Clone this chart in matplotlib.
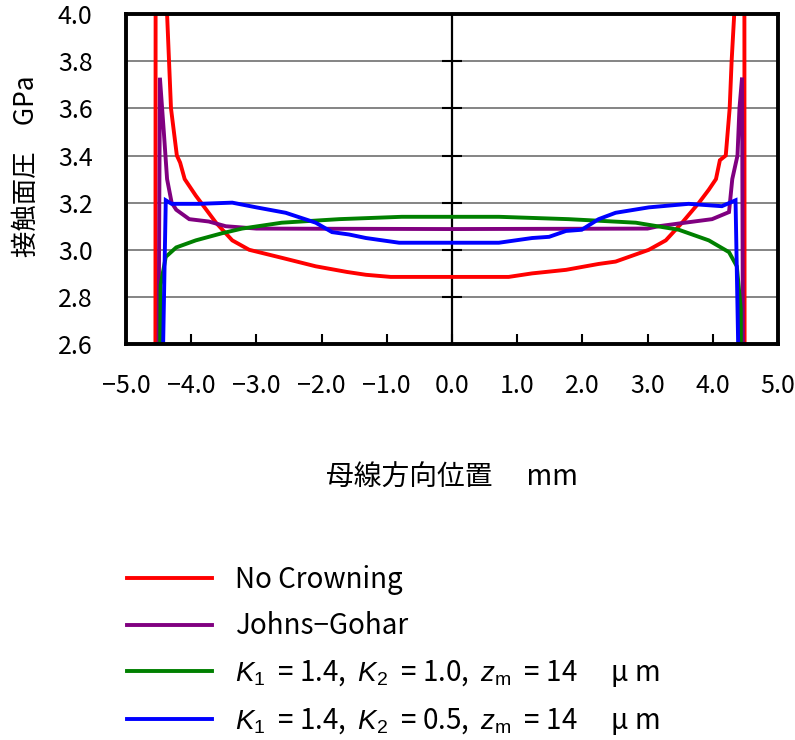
import numpy as np
import matplotlib
matplotlib.use('Agg')
import matplotlib.pyplot as plt

plt.rcParams['font.family'] = ['Noto Sans CJK JP', 'DejaVu Sans']
plt.rcParams['mathtext.fontset'] = 'custom'
plt.rcParams['mathtext.rm'] = 'Liberation Sans'
plt.rcParams['mathtext.it'] = 'Liberation Sans:italic'

# 読み取ったデータ (母線方向位置 mm, 接触面圧 GPa)
red_x = [-4.55, -4.54, -4.45, -4.37, -4.34, -4.31, -4.22, -4.17, -4.10, -3.93, -3.62, -3.37,
         -3.11, -2.61, -2.09, -1.61, -1.32, -0.94, 0.87, 1.23, 1.75, 2.25, 2.51, 3.02, 3.28,
         3.53, 3.79, 3.94, 4.05, 4.11, 4.20, 4.26, 4.29, 4.33, 4.42, 4.48, 4.49]
red_y = [2.0, 7.0, 4.6, 4.0, 3.8, 3.6, 3.4, 3.37, 3.30, 3.23, 3.115, 3.04,
         3.0, 2.966, 2.93, 2.906, 2.894, 2.885, 2.885, 2.90, 2.915, 2.94, 2.95, 3.0, 3.04,
         3.115, 3.20, 3.255, 3.30, 3.38, 3.40, 3.60, 3.80, 4.0, 4.6, 7.0, 2.0]

purple_x = [-4.51, -4.48, -4.42, -4.37, -4.30, -4.23, -4.03, -3.73, -3.47, -3.0, 0.0,
            3.0, 3.17, 3.63, 3.99, 4.25, 4.30, 4.38, 4.41, 4.45, 4.47]
purple_y = [2.0, 3.73, 3.50, 3.30, 3.20, 3.17, 3.13, 3.12, 3.10, 3.09, 3.088,
            3.09, 3.10, 3.117, 3.13, 3.16, 3.30, 3.40, 3.60, 3.73, 2.0]

green_x = [-4.49, -4.47, -4.39, -4.23, -3.93, -3.53, -3.22, -2.61, -1.73, -0.77, 0.72,
           1.79, 2.82, 3.48, 3.94, 4.25, 4.37, 4.43, 4.44]
green_y = [2.0, 2.85, 2.97, 3.01, 3.04, 3.07, 3.09, 3.115, 3.13, 3.14, 3.14,
           3.13, 3.115, 3.085, 3.04, 2.99, 2.93, 2.75, 2.0]

blue_x = [-4.47, -4.39, -4.30, -3.88, -3.37, -3.0, -2.55, -2.09, -1.84, -1.58, -1.32, -0.81,
          0.72, 1.23, 1.49, 1.75, 1.99, 2.25, 2.51, 3.02, 3.63, 4.14, 4.35, 4.43]
blue_y = [2.0, 3.21, 3.195, 3.195, 3.20, 3.18, 3.157, 3.115, 3.075, 3.065, 3.05, 3.03,
          3.03, 3.05, 3.055, 3.08, 3.085, 3.13, 3.157, 3.18, 3.195, 3.185, 3.21, 2.0]

labels = ['No Crowning', 'Johns−Gohar',
          r'$K_1$  = 1.4,  $K_2$  = 1.0,  $z_\mathrm{m}$  = 14　 μ m',
          r'$K_1$  = 1.4,  $K_2$  = 0.5,  $z_\mathrm{m}$  = 14　 μ m']
colors = ['#FF0000', '#800080', '#008000', '#0000FF']

xticks = [-5, -4, -3, -2, -1, 0, 1, 2, 3, 4, 5]
xtick_labels = ['−5.0', '−4.0', '−3.0', '−2.0', '−1.0', '0.0', '1.0', '2.0', '3.0', '4.0', '5.0']
yticks = [2.6, 2.8, 3.0, 3.2, 3.4, 3.6, 3.8, 4.0]

fig = plt.figure(figsize=(7.95, 7.4), dpi=100)
ax = fig.add_axes([0.1585, 0.535, 0.82, 0.446])

series = [(red_x, red_y), (purple_x, purple_y), (green_x, green_y), (blue_x, blue_y)]
for (xs, ys), c, lab in zip(series, colors, labels):
    ax.plot(xs, ys, color=c, lw=2.8, label=lab, solid_joinstyle='miter')

ax.set_xlim(-5, 5)
ax.set_ylim(2.6, 4.0)
ax.set_xticks(xticks)
ax.set_xticklabels(xtick_labels)
ax.set_yticks(yticks)
ax.set_yticklabels(['%.1f' % v for v in yticks])
ax.grid(axis='y', color='#707070', lw=1.2)
ax.set_axisbelow(True)

# 中央の縦軸 (x = 0)
ax.axvline(0, color='black', lw=1.6, zorder=1.5)
ax.plot([0] * len(yticks), yticks, ls='none', marker='_', ms=14, mew=1.5,
        color='black', zorder=1.5)

for s in ax.spines.values():
    s.set_linewidth(2.8)
    s.set_zorder(5)

ax.tick_params(axis='x', direction='in', length=7, width=1.5, pad=21, labelsize=18)
ax.tick_params(axis='y', length=0, pad=24, labelsize=18)

ax.set_xlabel('母線方向位置　 mm', fontsize=20, labelpad=46)
ax.set_ylabel('接触面圧　GPa', fontsize=19)
ax.yaxis.set_label_coords(-0.132, 0.54)

fig.legend(loc='upper left', bbox_to_anchor=(0.16, 0.237), frameon=False,
           fontsize=20, handlelength=3.05, handletextpad=0.83, labelspacing=0.6,
           borderpad=0, borderaxespad=0)

plt.savefig('out.png', dpi=100)
